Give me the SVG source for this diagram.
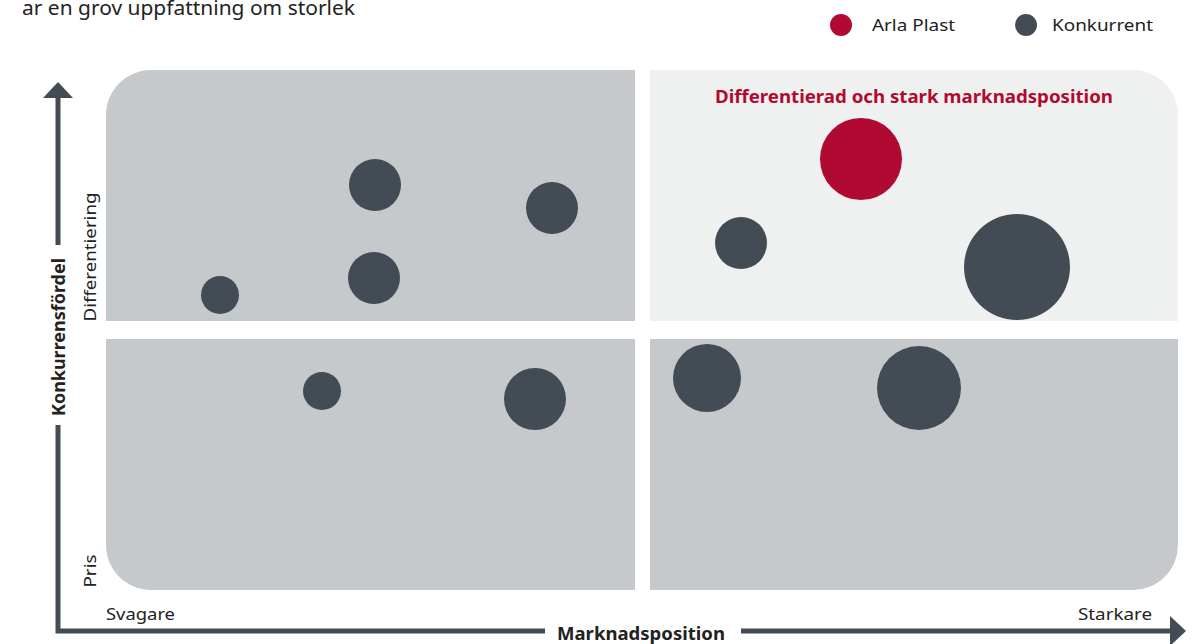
<svg xmlns="http://www.w3.org/2000/svg" width="1198" height="644" viewBox="0 0 1198 644">
<style>
text{font-family:"Noto Sans","Open Sans","Liberation Sans",sans-serif;fill:#222;}
.b{font-weight:bold;}
.q{fill:#c6c9cc;}
.ql{fill:#eff0f0;}
.c{fill:#434c55;}
.r{fill:#b10a32;}
.ax{stroke:#434c55;stroke-width:5;fill:none;stroke-linejoin:miter;}
.ah{fill:#434c55;}
</style>
<rect width="1198" height="644" fill="#ffffff"/>
<text x="22" y="15" font-size="19" textLength="333" lengthAdjust="spacingAndGlyphs">ar en grov uppfattning om storlek</text>
<g id="legend">
<circle class="r" cx="841" cy="25" r="11"/>
<text x="872" y="31" font-size="17" textLength="83" lengthAdjust="spacingAndGlyphs">Arla Plast</text>
<circle class="c" cx="1026" cy="25" r="11"/>
<text x="1052" y="31" font-size="17" textLength="101" lengthAdjust="spacingAndGlyphs">Konkurrent</text>
</g>
<g id="q-tl"><path class="q" d="M106,321 V115 A45,45 0 0 1 151,70 H635 V321 Z"/></g>
<g id="q-tr"><path class="ql" d="M650,70 H1133 A45,45 0 0 1 1178,115 V321 H650 Z"/>
<text class="b" x="914" y="103" font-size="17" text-anchor="middle" style="fill:#b10a32" textLength="398" lengthAdjust="spacingAndGlyphs">Differentierad och stark marknadsposition</text></g>
<g id="q-bl"><path class="q" d="M106,339 H635 V590 H151 A45,45 0 0 1 106,545 Z"/></g>
<g id="q-br"><path class="q" d="M650,339 H1178 V545 A45,45 0 0 1 1133,590 H650 Z"/></g>
<g id="bubbles">
<circle id="b1" class="c" cx="375" cy="185" r="26"/>
<circle id="b2" class="c" cx="552" cy="208" r="26"/>
<circle id="b3" class="c" cx="374" cy="278" r="26"/>
<circle id="b4" class="c" cx="220" cy="295" r="19"/>
<circle id="arla" class="r" cx="861" cy="159" r="41"/>
<circle id="b5" class="c" cx="741" cy="243" r="26"/>
<circle id="b6" class="c" cx="1017" cy="267" r="53"/>
<circle id="b7" class="c" cx="322" cy="391" r="19"/>
<circle id="b8" class="c" cx="535" cy="399" r="31"/>
<circle id="b9" class="c" cx="707" cy="378" r="34"/>
<circle id="b10" class="c" cx="919" cy="388" r="42"/>
</g>
<g id="axes">
<path class="ax" d="M58,96 V245"/>
<path class="ax" d="M58,425 V631 H545"/>
<path class="ax" d="M741,631 H1172"/>
<polygon class="ah" points="58,82 43,98 73,98"/>
<polygon class="ah" points="1186,631 1170,616 1170,646"/>
</g>
<g id="labels">
<text class="b" transform="translate(65,337) rotate(-90)" font-size="17" text-anchor="middle" textLength="158" lengthAdjust="spacingAndGlyphs">Konkurrensfördel</text>
<text transform="translate(96,257) rotate(-90)" font-size="17" text-anchor="middle" textLength="129" lengthAdjust="spacingAndGlyphs">Differentiering</text>
<text transform="translate(96,571) rotate(-90)" font-size="17" text-anchor="middle" textLength="33" lengthAdjust="spacingAndGlyphs">Pris</text>
<text x="106" y="620" font-size="17" textLength="69" lengthAdjust="spacingAndGlyphs">Svagare</text>
<text x="1152" y="620" font-size="17" text-anchor="end" textLength="74" lengthAdjust="spacingAndGlyphs">Starkare</text>
<text class="b" x="641" y="640" font-size="17" text-anchor="middle" textLength="168" lengthAdjust="spacingAndGlyphs">Marknadsposition</text>
</g>
</svg>
